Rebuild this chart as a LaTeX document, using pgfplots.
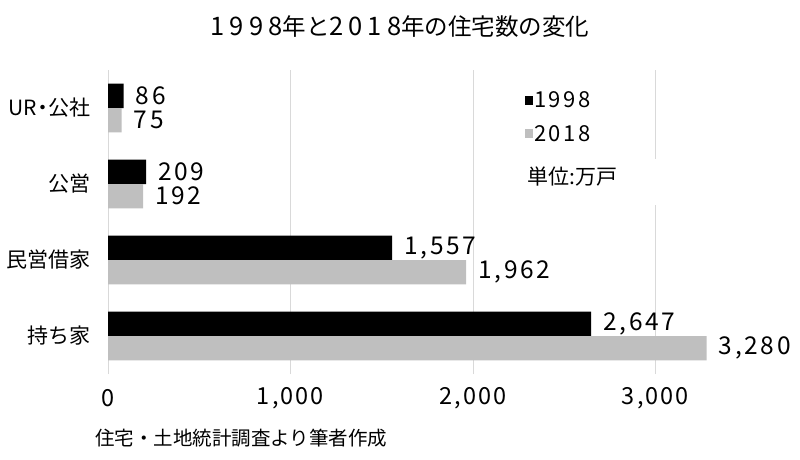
\documentclass[border=0pt]{standalone}
\usepackage{fontspec}
\setmainfont{Noto Sans CJK JP}
\newfontfamily\numfont{Noto Sans CJK JP}[LetterSpace=11]
\newfontfamily\axnumfont{Noto Sans CJK JP}[LetterSpace=9]
\newfontfamily\titlenum{Noto Sans CJK JP}[LetterSpace=20]
\usepackage{pgfplots}
\pgfplotsset{compat=1.18}
\definecolor{gbar}{HTML}{BFBFBF}
\definecolor{gridc}{HTML}{D9D9D9}
\begin{document}
\begin{tikzpicture}
\path[use as bounding box] (0pt,0pt) rectangle (800pt,459pt);
\begin{axis}[
 at={(108pt,123pt)}, anchor=origin,
 scale only axis, width=627pt, height=304pt,
 xmin=0, xmax=3436, ymin=-0.5, ymax=3.5,
 xbar, bar width=0.32,
 ytick={0,1,2,3}, yticklabels={持ち家,民営借家,公営,UR{\kern-0.22em}・{\kern-0.22em}公社},
 xtick={0,1000,2000,3000},
 xmajorgrids, major grid style={gridc, line width=0.9pt},
 axis line style={draw=none},
 tick style={draw=none},
 xticklabel style={font=\axnumfont\fontsize{23.5}{23.5}\selectfont, anchor=center, yshift=-24pt},
 yticklabel style={font=\fontsize{21}{21}\selectfont, anchor=east, inner sep=0pt, xshift=-13pt},
 /pgf/number format/1000 sep={,},
 /pgf/number format/assume math mode=true,
 clip=false,
 nodes near coords, nodes near coords align=horizontal,
 every node near coord/.append style={font=\numfont\fontsize{24.5}{24.5}\selectfont, black, inner sep=0pt, xshift=12pt},
 legend style={at={(rel axis cs:0.665,0.933)}, anchor=north west, draw=none, fill=none,
   font=\numfont\fontsize{22}{22}\selectfont, row sep=14pt, inner sep=0pt,
   nodes={inner sep=1pt}},
 legend cell align=left,
 legend image code/.code={\fill[#1] (0pt,-4.5pt) rectangle (8pt,4.5pt);},
]
\addplot[draw=none, fill=black, bar shift=0.16] coordinates {(2647,0) (1557,1) (209,2) (86,3)};
\addplot[draw=none, fill=gbar, bar shift=-0.16] coordinates {(3280,0) (1962,1) (192,2) (75,3)};
\legend{1998,2018}
\end{axis}
\fill[white] (515pt,254pt) rectangle (662pt,300pt);
\node[anchor=west, font=\fontsize{21}{21}\selectfont, inner sep=0pt] at (527pt,282pt) {単位:万戸};
\node[font=\fontsize{23.5}{23.5}\selectfont] at (400pt,432pt) {{\titlenum\fontsize{25.5}{25.5}\selectfont 1998}年と{\titlenum\fontsize{25.5}{25.5}\selectfont 2018}年の住宅数の変化};
\node[anchor=west, font=\fontsize{19.5}{19.5}\selectfont, inner sep=0pt] at (95pt,21pt) {住宅・土地統計調査より筆者作成};
\end{tikzpicture}
\end{document}
